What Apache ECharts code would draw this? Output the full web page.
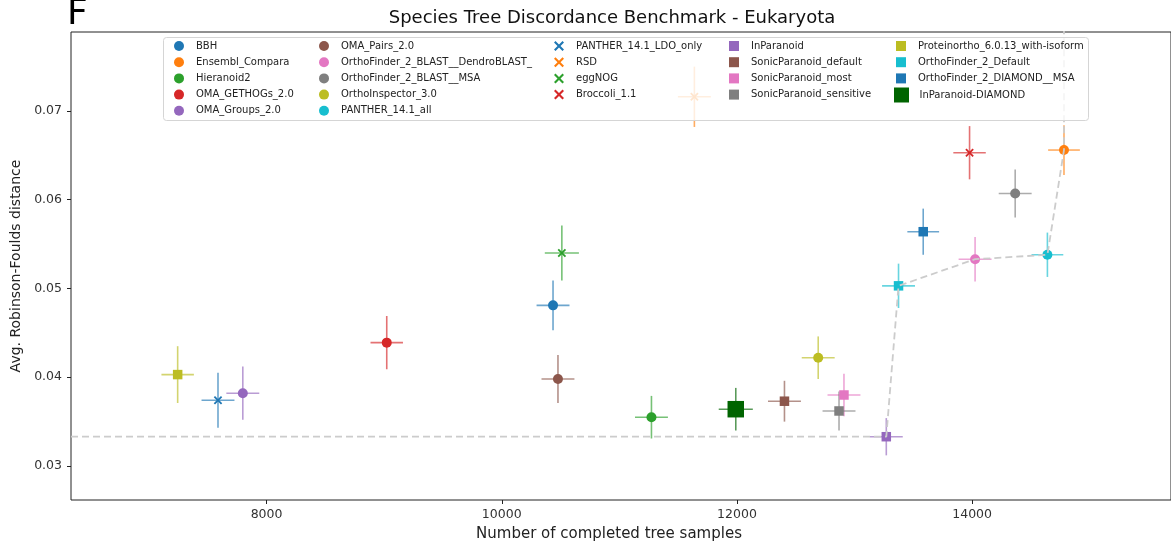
<!DOCTYPE html>
<html>
<head>
<meta charset="utf-8">
<script src="https://cdn.jsdelivr.net/npm/echarts@6/dist/echarts.min.js"></script>
<style>
html,body{margin:0;padding:0;background:#fff;}
#chart{width:1171px;height:547px;}
</style>
</head>
<body>
<div id="chart"></div>
<script>
// ---------------- DATA ----------------
const methods = [
  'BBH', 'Ensembl_Compara', 'Hieranoid2', 'OMA_GETHOGs_2.0', 'OMA_Groups_2.0',
  'OMA_Pairs_2.0', 'OrthoFinder_2_BLAST__DendroBLAST_', 'OrthoFinder_2_BLAST__MSA', 'OrthoInspector_3.0', 'PANTHER_14.1_all',
  'PANTHER_14.1_LDO_only', 'RSD', 'eggNOG', 'Broccoli_1.1',
  'InParanoid', 'SonicParanoid_default', 'SonicParanoid_most', 'SonicParanoid_sensitive',
  'Proteinortho_6.0.13_with-isoform', 'OrthoFinder_2_Default', 'OrthoFinder_2_DIAMOND__MSA', 'InParanoid-DIAMOND'
];
const completedSamples = [
  10436, 14781, 11273, 9022, 7798,
  10478, 14025, 14366, 12691, 14640,
  7587, 11638, 10511, 13978,
  13270, 12404, 12910, 12868,
  7244, 13374, 13584, 11990
];
const avgRF = [
  0.0481, 0.0656, 0.0355, 0.0439, 0.0382,
  0.0398, 0.0533, 0.0607, 0.0422, 0.0538,
  0.0374, 0.0716, 0.0540, 0.0653,
  0.0333, 0.0373, 0.0380, 0.0362,
  0.0403, 0.0503, 0.0564, 0.0364
];
const samplesErr = [
  140, 135, 140, 138, 140,
  140, 140, 140, 140, 135,
  140, 140, 145, 138,
  140, 140, 140, 140,
  138, 140, 135, 145
];
const rfErr = [
  0.0028, 0.0028, 0.0024, 0.0030, 0.0030,
  0.0027, 0.0025, 0.0027, 0.0024, 0.0025,
  0.0031, 0.0034, 0.0031, 0.0030,
  0.0021, 0.0023, 0.0024, 0.0022,
  0.0032, 0.0025, 0.0026, 0.0024
];
// Pareto front (grey dashed) goes through these methods
const paretoMethods = ['InParanoid', 'OrthoFinder_2_Default', 'OrthoFinder_2_BLAST__DendroBLAST_', 'PANTHER_14.1_all', 'Ensembl_Compara'];
const xTicks = [8000, 10000, 12000, 14000];
const yTicks = [0.03, 0.04, 0.05, 0.06, 0.07];
const legendColumns = [
  ['BBH', 'Ensembl_Compara', 'Hieranoid2', 'OMA_GETHOGs_2.0', 'OMA_Groups_2.0'],
  ['OMA_Pairs_2.0', 'OrthoFinder_2_BLAST__DendroBLAST_', 'OrthoFinder_2_BLAST__MSA', 'OrthoInspector_3.0', 'PANTHER_14.1_all'],
  ['PANTHER_14.1_LDO_only', 'RSD', 'eggNOG', 'Broccoli_1.1'],
  ['InParanoid', 'SonicParanoid_default', 'SonicParanoid_most', 'SonicParanoid_sensitive'],
  ['Proteinortho_6.0.13_with-isoform', 'OrthoFinder_2_Default', 'OrthoFinder_2_DIAMOND__MSA']
];
const bigLegend = ['InParanoid-DIAMOND'];

// ---------------- STYLES ----------------
const X_PATH = 'path://M0,1.5L1.5,0L5,3.5L8.5,0L10,1.5L6.5,5L10,8.5L8.5,10L5,6.5L1.5,10L0,8.5L3.5,5Z';
const SQ_PATH = 'path://M0,0L10,0L10,10L0,10Z';
const C = {blue:'#1f77b4', orange:'#ff7f0e', green:'#2ca02c', red:'#d62728', purple:'#9467bd',
  brown:'#8c564b', pink:'#e377c2', gray:'#7f7f7f', olive:'#bcbd22', cyan:'#17becf', dgreen:'#006400'};
const styleOf = {
  'BBH': [C.blue, 'circle', 10],
  'Ensembl_Compara': [C.orange, 'circle', 10],
  'Hieranoid2': [C.green, 'circle', 10],
  'OMA_GETHOGs_2.0': [C.red, 'circle', 10],
  'OMA_Groups_2.0': [C.purple, 'circle', 10],
  'OMA_Pairs_2.0': [C.brown, 'circle', 10],
  'OrthoFinder_2_BLAST__DendroBLAST_': [C.pink, 'circle', 10],
  'OrthoFinder_2_BLAST__MSA': [C.gray, 'circle', 10],
  'OrthoInspector_3.0': [C.olive, 'circle', 10],
  'PANTHER_14.1_all': [C.cyan, 'circle', 10],
  'PANTHER_14.1_LDO_only': [C.blue, X_PATH, 8.5],
  'RSD': [C.orange, X_PATH, 8.5],
  'eggNOG': [C.green, X_PATH, 8.5],
  'Broccoli_1.1': [C.red, X_PATH, 8.5],
  'InParanoid': [C.purple, SQ_PATH, 9.5],
  'SonicParanoid_default': [C.brown, SQ_PATH, 9.5],
  'SonicParanoid_most': [C.pink, SQ_PATH, 9.5],
  'SonicParanoid_sensitive': [C.gray, SQ_PATH, 9.5],
  'Proteinortho_6.0.13_with-isoform': [C.olive, SQ_PATH, 9.5],
  'OrthoFinder_2_Default': [C.cyan, SQ_PATH, 9.5],
  'OrthoFinder_2_DIAMOND__MSA': [C.blue, SQ_PATH, 9.5],
  'InParanoid-DIAMOND': [C.dgreen, SQ_PATH, 16.5]
};

// ---------------- LAYOUT ----------------
const GRID = {left: 71, top: 32, width: 1110, height: 468};
const X_MIN = 6337, X_MAX = 15691;
const Y_MIN = 0.026169, Y_MAX = 0.078901;
const FONT = 'DejaVu Sans';

const chart = echarts.init(document.getElementById('chart'), null, {renderer: 'canvas'});

const idx = m => methods.indexOf(m);
const paretoData = [[X_MIN, avgRF[idx(paretoMethods[0])]]]
  .concat(paretoMethods.map(m => [completedSamples[idx(m)], avgRF[idx(m)]]))
  .concat([[completedSamples[idx(paretoMethods[paretoMethods.length - 1])], Y_MAX + 0.001]]);

const scatterSeries = methods.map((m, i) => ({
  type: 'scatter',
  name: m,
  z: 2,
  silent: true,
  symbol: styleOf[m][1],
  symbolSize: styleOf[m][2],
  symbolKeepAspect: true,
  itemStyle: {color: styleOf[m][0], opacity: 1},
  emphasis: {disabled: true},
  data: [[completedSamples[i], avgRF[i]]]
}));

const errSeries = {
  type: 'custom',
  name: 'errorbars',
  z: 1,
  silent: true,
  data: methods.map((m, i) => [completedSamples[i], avgRF[i], samplesErr[i], rfErr[i], i]),
  encode: {x: 0, y: 1},
  renderItem: function (params, api) {
    const x = api.value(0), y = api.value(1), dx = api.value(2), dy = api.value(3), i = api.value(4);
    const l = api.coord([x - dx, y]), r = api.coord([x + dx, y]);
    const t = api.coord([x, y + dy]), b = api.coord([x, y - dy]);
    const col = styleOf[methods[i]][0];
    const st = {stroke: col, lineWidth: 1.6, opacity: 0.65};
    return {type: 'group', children: [
      {type: 'line', shape: {x1: l[0], y1: l[1], x2: r[0], y2: r[1]}, style: st},
      {type: 'line', shape: {x1: t[0], y1: t[1], x2: b[0], y2: b[1]}, style: st}
    ]};
  }
};

const paretoSeries = {
  type: 'line',
  name: 'pareto',
  z: 3,
  silent: true,
  symbol: 'none',
  clip: true,
  lineStyle: {color: '#cccccc', width: 1.8, type: [7, 4]},
  data: paretoData
};

const legendColX = [174, 319, 554, 729, 896];
const legends = legendColumns.map((col, k) => ({
  orient: 'vertical',
  left: legendColX[k],
  top: 40,
  padding: 0,
  itemWidth: 24,
  itemHeight: 10,
  itemGap: 4.2,
  symbolKeepAspect: true,
  selectedMode: false,
  z: 10,
  data: col,
  textStyle: {fontFamily: FONT, fontSize: 10, color: '#222', lineHeight: 12}
}));
legends.push({
  orient: 'vertical',
  left: legendColX[4] - 2,
  top: 87.5,
  padding: 0,
  itemWidth: 26,
  itemHeight: 15,
  itemGap: 4,
  symbolKeepAspect: true,
  selectedMode: false,
  z: 10,
  data: bigLegend,
  textStyle: {fontFamily: FONT, fontSize: 10, color: '#222', lineHeight: 12}
});

const option = {
  animation: false,
  backgroundColor: '#ffffff',
  textStyle: {fontFamily: FONT},
  grid: Object.assign({show: true, borderColor: '#222', borderWidth: 1, backgroundColor: '#fff'}, GRID),
  legend: legends,
  xAxis: {
    type: 'value',
    min: X_MIN,
    max: X_MAX,
    name: 'Number of completed tree samples',
    nameLocation: 'middle',
    nameGap: 27,
    nameTextStyle: {fontFamily: FONT, fontSize: 15, color: '#222', padding: [0, 24, 0, 0]},
    splitLine: {show: false},
    axisLine: {show: false},
    axisTick: {show: true, length: 4, lineStyle: {color: '#222'}, customValues: xTicks},
    axisLabel: {fontFamily: FONT, fontSize: 12.5, color: '#333', margin: 8, customValues: xTicks,
      formatter: v => String(v)}
  },
  yAxis: {
    type: 'value',
    min: Y_MIN,
    max: Y_MAX,
    name: 'Avg. Robinson-Foulds distance',
    nameLocation: 'middle',
    nameGap: 46,
    nameTextStyle: {fontFamily: FONT, fontSize: 14, color: '#222'},
    splitLine: {show: false},
    axisLine: {show: false},
    axisTick: {show: true, length: 4, lineStyle: {color: '#222'}, customValues: yTicks},
    axisLabel: {fontFamily: FONT, fontSize: 12.5, color: '#333', margin: 9, customValues: yTicks,
      formatter: v => v.toFixed(2)}
  },
  graphic: [
    {type: 'rect', z: 5, silent: true, shape: {x: 163.5, y: 37.5, width: 925, height: 83, r: 3},
      style: {fill: 'rgba(255,255,255,0.8)', stroke: '#d5d5d5', lineWidth: 1}},
    {type: 'text', z: 5, silent: true, x: 612, y: 18,
      style: {text: 'Species Tree Discordance Benchmark - Eukaryota', fill: '#111', font: '18px "DejaVu Sans"',
        textAlign: 'center', textVerticalAlign: 'middle'}},
    {type: 'text', z: 5, silent: true, x: 67, y: 15,
      style: {text: 'F', fill: '#000', font: '36px "DejaVu Sans"', textAlign: 'left', textVerticalAlign: 'middle'}}
  ],
  series: [errSeries].concat(scatterSeries).concat([paretoSeries])
};
chart.setOption(option);
</script>
</body>
</html>
